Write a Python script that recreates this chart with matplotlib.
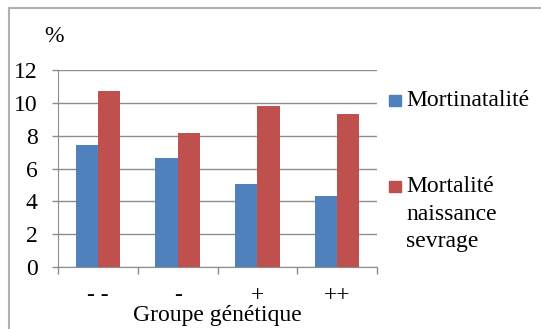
import matplotlib.pyplot as plt
from matplotlib.patches import Rectangle
from matplotlib.lines import Line2D

groupes = ['- -', '-', '+', '++']
mortinatalite = [7.45, 6.67, 5.06, 4.3]
mortalite_sevrage = [10.72, 8.19, 9.83, 9.35]
series_labels = ['Mortinatalité', 'Mortalité\nnaissance\nsevrage']

blue = '#4F81BD'
red = '#C0504D'
grid_col = '#8C8C8C'

plt.rcParams['font.family'] = 'serif'
plt.rcParams['font.serif'] = ['Liberation Serif', 'Times New Roman', 'DejaVu Serif']
fs = 17

fig = plt.figure(figsize=(5.41, 3.29), dpi=100)
ax = fig.add_axes([58 / 541, 1 - 267 / 329, 319 / 541, 197 / 329])

x = list(range(len(groupes)))
w = 0.28
ax.bar([i - w / 2 for i in x], mortinatalite, width=w, color=blue, zorder=3)
ax.bar([i + w / 2 for i in x], mortalite_sevrage, width=w, color=red, zorder=3)

ax.set_xlim(-0.5, len(groupes) - 0.5)
ax.set_ylim(0, 12)
ax.set_yticks(range(0, 13, 2))
ax.yaxis.grid(True, color=grid_col, lw=1, zorder=0)
ax.tick_params(axis='y', length=4.3, width=1, color=grid_col, pad=10.5, labelsize=fs)

ax.set_xticks(x)
ax.set_xticklabels(groupes)
ax.set_xticks([i - 0.5 for i in range(len(groupes) + 1)], minor=True)
ax.tick_params(axis='x', which='major', length=0, pad=13, labelsize=fs)
ax.tick_params(axis='x', which='minor', length=5, width=1, color=grid_col)

for s in ['top', 'right']:
    ax.spines[s].set_visible(False)
for s in ['left', 'bottom']:
    ax.spines[s].set_color(grid_col)

fig.text(217.5 / 541, 1 - 316 / 329, 'Groupe génétique', ha='center', va='center', fontsize=fs)
fig.text(54 / 541, 1 - 37 / 329, '%', ha='center', va='center', fontsize=fs)

# legende
for col, lab, yc in [(blue, series_labels[0], 100.5), (red, series_labels[1], 186.5)]:
    fig.patches.append(Rectangle((389 / 541, 1 - (yc + 5.5) / 329), 12 / 541, 11 / 329,
                                 transform=fig.transFigure, color=col))
    fig.text(406 / 541, 1 - (yc - 10) / 329, lab, ha='left', va='top', fontsize=fs,
             linespacing=1.4)

# cadre
fig.add_artist(Line2D([9 / 541, 1], [1 - 8 / 329, 1 - 8 / 329], color='#B0B0B0', lw=1.5,
                      transform=fig.transFigure))
fig.add_artist(Line2D([9 / 541, 9 / 541], [0, 1 - 8 / 329], color='#B0B0B0', lw=1.5,
                      transform=fig.transFigure))

fig.savefig('out.png', dpi=100)
